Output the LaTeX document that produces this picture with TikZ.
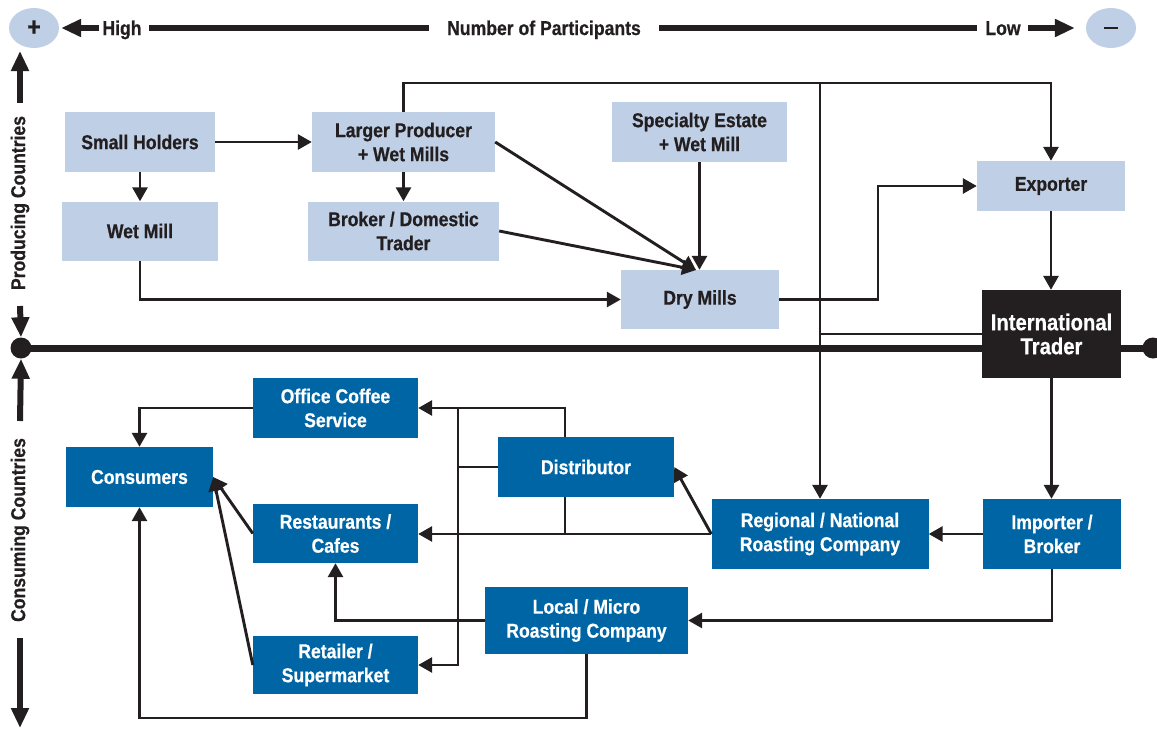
\documentclass[tikz,border=0pt]{standalone}
\usepackage{fontspec}
\setmainfont{Liberation Sans}[FakeStretch=0.88, BoldFeatures={FakeBold=0.6}]
\usetikzlibrary{arrows.meta,shapes.geometric,calc}
\definecolor{lb}{RGB}{191,208,230}
\definecolor{db}{RGB}{0,101,165}
\definecolor{ink}{RGB}{35,31,32}
\begin{document}
\begin{tikzpicture}[x=1pt,y=-1pt,
 box/.style={rectangle, inner sep=0pt, align=center, font=\fontsize{20}{24}\selectfont\bfseries, text=ink},
 lbox/.style={box, fill=lb},
 dbox/.style={box, fill=db, text=white},
 conn/.style={draw=ink, line width=2.9pt, -{Triangle[length=14pt,width=15pt]}},
 plain/.style={draw=ink, line width=2.9pt},
 axis/.style={draw=ink, line width=6pt},
 axarrow/.style={axis, -{Triangle[length=20pt,width=17pt]}},
 lbl/.style={inner sep=0pt, font=\fontsize{20}{24}\selectfont\bfseries, text=ink},
 pm/.style={ellipse, fill=lb, minimum width=50pt, minimum height=40pt, inner sep=0pt, font=\fontsize{26}{26}\selectfont\bfseries, text=ink},
 dot/.style={circle, fill=ink, minimum size=21pt, inner sep=0pt}
]
\useasboundingbox (0,0) rectangle (1157,731);

% top bar
\node[pm] (plus) at (34,28) {+};
\node[pm] (minus) at (1111,28) {\rule{14pt}{2.8pt}};
\node[lbl, anchor=base] (high) at (122,35) {High};
\node[lbl, anchor=base] (num) at (544,35) {Number of Participants};
\node[lbl, anchor=base] (low) at (1003,35) {Low};
\draw[axarrow, shorten <=3pt, shorten >=2pt] (high.west |- plus.center) -- (plus.east);
\draw[axis, shorten <=7pt, shorten >=18pt] (high.east |- plus.center) -- (num.west |- plus.center);
\draw[axis, shorten <=18pt, shorten >=8pt] (num.east |- plus.center) -- (low.west |- plus.center);
\draw[axarrow, shorten <=7pt, shorten >=11pt] (low.east |- plus.center) -- (minus.west);

% left axis
\node[lbl, rotate=90] (pc) at (20,203) {Producing Countries};
\node[lbl, rotate=90] (cc) at (20,530) {Consuming Countries};
\node[dot] (ldot) at (21,348) {};
\node[dot] (rdot) at (1153,348) {};
\coordinate (a1) at (20,103);
\coordinate (a2) at (20,51);
\coordinate (a3) at (20,306);
\coordinate (a4) at (20,421);
\coordinate (a5) at (20,638);
\coordinate (a6) at (20,728);
\draw[axarrow] (a1) -- (a2);
\draw[axarrow] (a3) -- (ldot.north);
\draw[axarrow] (a4) -- (ldot.south);
\draw[axarrow] (a5) -- (a6);

% producing nodes
\node[lbox, minimum width=150pt, minimum height=60pt] (sh) at (140,142) {Small Holders};
\node[lbox, minimum width=156pt, minimum height=59pt] (wm) at (140,231) {Wet Mill};
\node[lbox, minimum width=183pt, minimum height=60pt] (lp) at (403.5,142) {Larger Producer\\+ Wet Mills};
\node[lbox, minimum width=191pt, minimum height=59pt] (bd) at (403.5,231) {Broker / Domestic\\Trader};
\node[lbox, minimum width=175pt, minimum height=60pt] (se) at (699.5,132) {Specialty Estate\\+ Wet Mill};
\node[lbox, minimum width=158pt, minimum height=59pt] (dm) at (700,299.5) {\raisebox{-2pt}{Dry Mills}};
\node[lbox, minimum width=148pt, minimum height=50pt] (ex) at (1051,186) {\raisebox{-2pt}{Exporter}};
\node[box, fill=ink, text=white, font=\fontsize{23}{24}\selectfont\bfseries, minimum width=139pt, minimum height=88pt] (it) at (1051.5,334) {International\\Trader};

% consuming nodes
\node[dbox, minimum width=165pt, minimum height=60pt] (oc) at (335.5,408) {Office Coffee\\Service};
\node[dbox, minimum width=147pt, minimum height=60pt] (co) at (139.5,477) {Consumers};
\node[dbox, minimum width=165pt, minimum height=59pt] (rc) at (335.5,533.5) {Restaurants /\\Cafes};
\node[dbox, minimum width=165pt, minimum height=58pt] (rs) at (335.5,665) {Retailer /\\Supermarket};
\node[dbox, minimum width=176pt, minimum height=60pt] (di) at (586,467) {Distributor};
\node[dbox, minimum width=217pt, minimum height=70pt] (rn) at (820,534) {Regional / National\\Roasting Company};
\node[dbox, minimum width=138pt, minimum height=70pt] (ib) at (1052,534) {Importer /\\Broker};
\node[dbox, minimum width=203pt, minimum height=67pt] (lm) at (586.5,620.5) {Local / Micro\\Roasting Company};

% thick divider
\draw[axis, line width=7pt] (ldot.center) -- (it.west |- ldot.center);
\draw[axis, line width=7pt] (it.east |- rdot.center) -- (rdot.center);

% helper coordinates
\coordinate (tb) at (820,83);
\coordinate (dmin) at (696,270);
\coordinate (jx) at (878,0);
\coordinate (dx) at (565,0);
\coordinate (bx) at (458,0);
\coordinate (bot) at (0,718);

% producing connectors
\draw[conn] (sh.east) -- (lp.west);
\draw[conn] (sh.south) -- (wm.north);
\draw[conn] (lp.south) -- (bd.north);
\draw[conn] (wm.south) |- (dm.west);
\draw[conn] (lp.east) -- (dmin);
\draw[conn] (bd.east) -- (dmin);
\draw[conn] (se.south) -- (se.south |- dm.north);
\draw[conn] (dm.east) -- (dm.east -| jx) |- (ex.west);
\draw[conn] (lp.north) |- (tb) -| (ex.north);
\draw[conn] (tb) -- (tb |- rn.north);
\draw[plain] (it.west) -- (it.west -| tb);
\draw[conn] (ex.south) -- (ex.south |- it.north);
\draw[conn] (it.south) -- (it.south |- ib.north);

% consuming connectors
\draw[conn] (ib.west) -- (rn.east);
\draw[conn] (ib.south) |- (lm.east);
\draw[conn] (rn.west) -- (di.east);
\draw[conn] (rn.west) -- (rn.west -| rc.east);
\draw[plain] (di.south -| dx) -- (dx |- rn.west);
\draw[conn] (di.north -| dx) |- (oc.east);
\draw[plain] (di.west) -- (di.west -| bx);
\draw[conn] (bx |- oc.east) |- (rs.east);
\draw[conn] (lm.west) -| (rc.south);
\draw[conn] (lm.south) -- (lm.south |- bot) -| (co.south);
\draw[conn] (oc.west) -| (co.north);
\draw[conn] (rc.west) -- (co.east);
\draw[conn] (rs.west) -- (co.east);
\end{tikzpicture}
\end{document}
